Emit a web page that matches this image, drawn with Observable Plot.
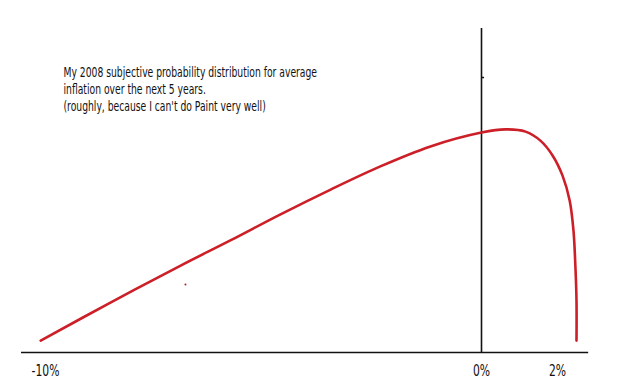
<!DOCTYPE html>
<html>
<head>
<meta charset="utf-8">
<script src="https://cdn.jsdelivr.net/npm/d3@7"></script>
<script src="https://cdn.jsdelivr.net/npm/@observablehq/plot@0.6"></script>
<style>
  html, body { margin: 0; padding: 0; background: #fff; }
</style>
</head>
<body>
<div id="chart"></div>
<script>
// Inflation (%) and subjective probability density (arbitrary units)
const inflation = [-10.11, -8.51, -6.90, -5.76, -4.61, -3.46, -2.32, -1.17, 0, 0.63, 1.16, 1.55, 1.87, 2.13, 2.32, 2.42, 2.47, 2.50, 2.50];
const density   = [3.7, 15.5, 27.0, 34.8, 42.9, 50.6, 57.8, 64.0, 68.3, 69.3, 68.6, 65.8, 61.2, 55.0, 47.2, 37.9, 27.0, 16.1, 3.7];

// Axis ticks
const xTicks = [-10, 0, 2];
const xTickLabels = ["-10%", "0%", "2%"];

// Hand-drawn axes extents
const hAxisExtent = [-10.55, 2.82];
const vAxisTop = 100.6;
const vAxisMark = 85.4;

// Stray dot left in the drawing
const strayX = [-6.79];
const strayY = [21.1];

const caption = [
  "My 2008 subjective probability distribution for average",
  "inflation over the next 5 years.",
  "(roughly, because I can't do Paint very well)"
];

const curve = inflation.map((x, i) => ({x, y: density[i]}));
const stray = strayX.map((x, i) => ({x, y: strayY[i]}));

const chart = Plot.plot({
  width: 640,
  height: 391,
  marginLeft: 0,
  marginTop: 0,
  marginRight: 0,
  marginBottom: 39,
  style: {fontFamily: "'Liberation Sans Narrow', 'DejaVu Sans Condensed', sans-serif", background: "#fff", color: "#111"},
  x: {type: "linear", domain: [-10, 0, 2], range: [45, 481, 557]},
  y: {type: "linear", domain: [0, 100], range: [352, 30], axis: null},
  marks: [
    Plot.ruleY([0], {x1: hAxisExtent[0], x2: hAxisExtent[1], stroke: "#111", strokeWidth: 1.6}),
    Plot.ruleX([0], {y1: 0, y2: vAxisTop, stroke: "#111", strokeWidth: 1.6}),
    Plot.ruleY([vAxisMark], {x1: 0, x2: 0.08, stroke: "#111", strokeWidth: 1.5}),
    Plot.line(curve, {x: "x", y: "y", curve: "catmull-rom", stroke: "#cc1f27", strokeWidth: 2.6}),
    Plot.dot(stray, {x: "x", y: "y", r: 1, fill: "#b02020", stroke: null}),
    Plot.axisX({ticks: xTicks, tickSize: 0, tickPadding: 13, fontSize: 15,
      tickFormat: d => xTickLabels[xTicks.indexOf(d)], label: null}),
    Plot.text([caption.join("\n")], {frameAnchor: "top-left", dx: 63, dy: 64, fontSize: 13.5,
      lineHeight: 1.27, textAnchor: "start", lineAnchor: "top", fill: "#111"})
  ]
});

// Condense the hand-lettered looking text horizontally
const cap = chart.querySelector('g[aria-label="text"]');
if (cap) {
  const tr = cap.getAttribute("transform") || "";
  cap.setAttribute("transform", tr + " scale(0.76,1)");
}
chart.querySelectorAll('g[aria-label="x-axis tick label"] text').forEach(t => {
  const tr = t.getAttribute("transform") || "";
  t.setAttribute("transform", tr + " scale(0.8,1)");
});
document.getElementById("chart").appendChild(chart);
</script>
</body>
</html>
